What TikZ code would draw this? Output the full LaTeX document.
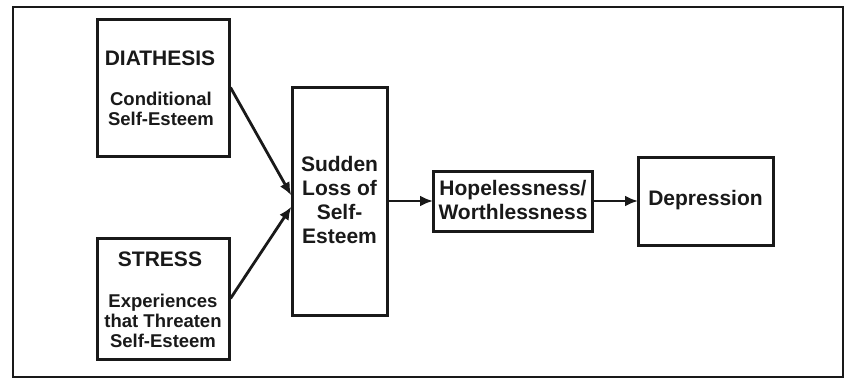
\documentclass[tikz,border=0pt]{standalone}
\usepackage{fontspec}
\setmainfont{Liberation Sans}
\usetikzlibrary{arrows.meta,calc}
\begin{document}
\begin{tikzpicture}[x=1pt,y=-1pt,
  box/.style={draw=black!90,line width=3pt,minimum width=#1,inner sep=0pt},
  big/.style={align=center,inner sep=0pt,text=black!90,font=\fontsize{21}{24}\selectfont\bfseries},
  small/.style={align=center,inner sep=0pt,text=black!90,font=\fontsize{18.5}{20}\selectfont\bfseries},
  arr/.style={draw=black!90,line width=2.8pt,-{Latex[length=13pt,width=11pt]},shorten >=-1.5pt}]
\useasboundingbox (0,0) rectangle (845,380);
\node[draw=black!90,line width=2pt,minimum width=830pt,minimum height=370pt,inner sep=0pt] (frame) at (428,192) {};
\node[box=132pt,minimum height=137pt] (dia) at (163,87.5) {};
\node[box=132pt,minimum height=121pt] (str) at (163,298.5) {};
\node[box=95pt,minimum height=228pt] (sud) at (339.5,201) {};
\node[box=159pt,minimum height=60pt] (hop) at (512.5,201) {};
\node[box=135pt,minimum height=88pt] (dep) at (705.5,201) {};
\node[big] (diat) at (160,58) {DIATHESIS};
\node[small] (dias) at (161,109) {Conditional\\Self-Esteem};
\node[big] (strt) at (160,259) {STRESS};
\node[small] (strs) at (163,321) {Experiences\\that Threaten\\Self-Esteem};
\node[big] (sudt) at (339.5,200) {Sudden\\Loss of\\Self-\\Esteem};
\node[big] (hopt) at (513,200) {Hopelessness/\\Worthlessness};
\node[big] (dept) at (705.5,200) {Depression};
\coordinate (in1) at ($(sud.west)+(0,-7)$);
\coordinate (in2) at ($(sud.west)+(0,7)$);
\draw[arr] (dia.east) -- (in1);
\draw[arr] (str.east) -- (in2);
\draw[arr] (sud.east) -- (hop.west);
\draw[arr] (hop.east) -- (dep.west);
\end{tikzpicture}
\end{document}
